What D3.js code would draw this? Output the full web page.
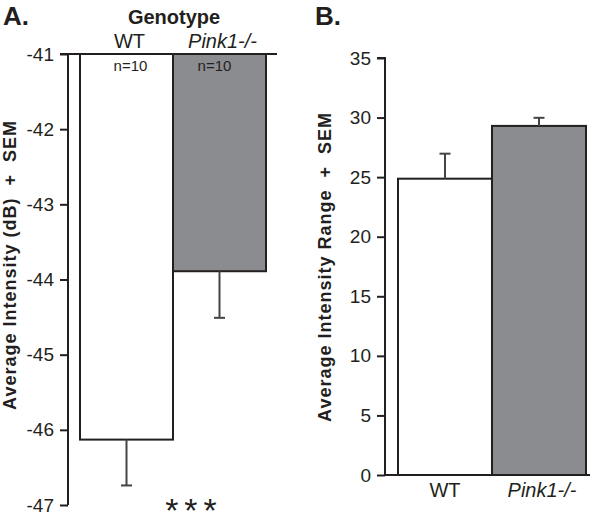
<!DOCTYPE html>
<html><head><meta charset="utf-8">
<script src="https://cdn.jsdelivr.net/npm/d3@7"></script>
<style>body{margin:0;background:#fff}svg{display:block}text{font-family:"Liberation Sans",Arial,sans-serif;fill:#231f20}</style>
</head><body><svg id="c" width="600" height="513"></svg>
<script>
const categories = ["WT", "Pink1-/-"];
const intensityMean = [-46.13, -43.89];
const intensitySem = [0.61, 0.62];
const rangeMean = [24.87, 29.3];
const rangeSem = [2.1, 0.68];
const nLabels = ["n=10", "n=10"];
const ticksA = [-41, -42, -43, -44, -45, -46, -47];
const ticksB = [0, 5, 10, 15, 20, 25, 30, 35];
const fills = ["#ffffff", "#8b8c90"];
const ink = "#231f20";

const svg = d3.select("#c");

// ---------- Panel A ----------
const yA = d3.scaleLinear().domain([-41, -47]).range([54, 505]);
const xA = d3.scaleBand().domain(categories).range([80, 266]).padding(0);
const gA = svg.append("g");
const axA = gA.append("g").attr("transform", "translate(68,0)")
  .call(d3.axisLeft(yA).tickValues(ticksA).tickSize(8).tickPadding(6).tickFormat(d3.format("d")));
axA.select(".domain").attr("stroke", ink).attr("stroke-width", 2).attr("d", `M-8,${yA(-41)}H0V${yA(-47)}`);
axA.selectAll(".tick line").attr("stroke", ink).attr("stroke-width", 2);
axA.selectAll(".tick text").attr("font-size", 19).attr("fill", ink).text(d => "-" + Math.abs(d));

gA.selectAll("rect.bar").data(categories).join("rect")
  .attr("x", d => xA(d)).attr("width", xA.bandwidth())
  .attr("y", yA(-41)).attr("height", (d, i) => yA(intensityMean[i]) - yA(-41))
  .attr("fill", (d, i) => fills[i]).attr("stroke", ink).attr("stroke-width", 2);
gA.append("line").attr("x1", 68).attr("x2", 277).attr("y1", yA(-41)).attr("y2", yA(-41))
  .attr("stroke", ink).attr("stroke-width", 2);
categories.forEach((c, i) => {
  const cx = xA(c) + xA.bandwidth() / 2;
  const y0 = yA(intensityMean[i]), y1 = yA(intensityMean[i] - intensitySem[i]);
  gA.append("line").attr("x1", cx).attr("x2", cx).attr("y1", y0).attr("y2", y1).attr("stroke", "#444").attr("stroke-width", 2);
  gA.append("line").attr("x1", cx - 5.5).attr("x2", cx + 5.5).attr("y1", y1).attr("y2", y1).attr("stroke", "#444").attr("stroke-width", 2);
});
gA.selectAll("text.cat").data(categories).join("text").attr("class", "cat")
  .attr("x", (d, i) => xA(d) + xA.bandwidth() / 2 + 3).attr("y", 48)
  .attr("text-anchor", "middle").attr("font-size", 20)
  .attr("font-style", (d, i) => i ? "italic" : "normal").text(d => d);
gA.selectAll("text.n").data(nLabels).join("text").attr("class", "n")
  .attr("x", (d, i) => xA(categories[i]) + xA.bandwidth() / 2 + (i ? -5 : 4)).attr("y", 71)
  .attr("text-anchor", "middle").attr("font-size", 15).text(d => d);
gA.append("text").attr("x", 174).attr("y", 24).attr("text-anchor", "middle")
  .attr("font-size", 20).attr("font-weight", "bold").text("Genotype");
gA.append("text").attr("x", 194).attr("y", 522).attr("text-anchor", "middle")
  .attr("font-size", 34).attr("letter-spacing", 6).text("***");
gA.append("text").attr("x", 3).attr("y", 25).attr("font-size", 26).attr("font-weight", "bold").text("A.");
gA.append("text").attr("transform", "translate(16,265) rotate(-90)").attr("text-anchor", "middle")
  .attr("font-size", 18).attr("font-weight", "bold").attr("letter-spacing", 1)
  .text("Average Intensity (dB)  +  SEM").style("white-space", "pre");

// ---------- Panel B ----------
const yB = d3.scaleLinear().domain([0, 35]).range([475, 58]);
const xB = d3.scaleBand().domain(categories).range([398, 586]).padding(0);
const gB = svg.append("g");
const axB = gB.append("g").attr("transform", "translate(385,0)")
  .call(d3.axisLeft(yB).tickValues(ticksB).tickSize(8).tickPadding(6));
axB.select(".domain").attr("stroke", ink).attr("stroke-width", 2).attr("d", `M-8,${yB(35)}H0V${yB(0)}`);
axB.selectAll(".tick line").attr("stroke", ink).attr("stroke-width", 2);
axB.selectAll(".tick text").attr("font-size", 19).attr("fill", ink);

gB.selectAll("rect.bar").data(categories).join("rect")
  .attr("x", d => xB(d)).attr("width", xB.bandwidth())
  .attr("y", (d, i) => yB(rangeMean[i])).attr("height", (d, i) => yB(0) - yB(rangeMean[i]))
  .attr("fill", (d, i) => fills[i]).attr("stroke", ink).attr("stroke-width", 2);
gB.append("line").attr("x1", 385).attr("x2", 590).attr("y1", yB(0)).attr("y2", yB(0))
  .attr("stroke", ink).attr("stroke-width", 2);
categories.forEach((c, i) => {
  const cx = xB(c) + xB.bandwidth() / 2;
  const y0 = yB(rangeMean[i]), y1 = yB(rangeMean[i] + rangeSem[i]);
  gB.append("line").attr("x1", cx).attr("x2", cx).attr("y1", y0).attr("y2", y1).attr("stroke", "#444").attr("stroke-width", 2);
  gB.append("line").attr("x1", cx - 5.5).attr("x2", cx + 5.5).attr("y1", y1).attr("y2", y1).attr("stroke", "#444").attr("stroke-width", 2);
});
gB.selectAll("text.cat").data(categories).join("text").attr("class", "cat")
  .attr("x", (d, i) => xB(d) + xB.bandwidth() / 2 + (i ? 3 : 0)).attr("y", 497)
  .attr("text-anchor", "middle").attr("font-size", 20)
  .attr("font-style", (d, i) => i ? "italic" : "normal").text(d => d);
gB.append("text").attr("x", 315).attr("y", 25).attr("font-size", 26).attr("font-weight", "bold").text("B.");
gB.append("text").attr("transform", "translate(331,267) rotate(-90)").attr("text-anchor", "middle")
  .attr("font-size", 18).attr("font-weight", "bold").attr("letter-spacing", 1)
  .text("Average Intensity Range  +  SEM").style("white-space", "pre");
</script></body></html>
